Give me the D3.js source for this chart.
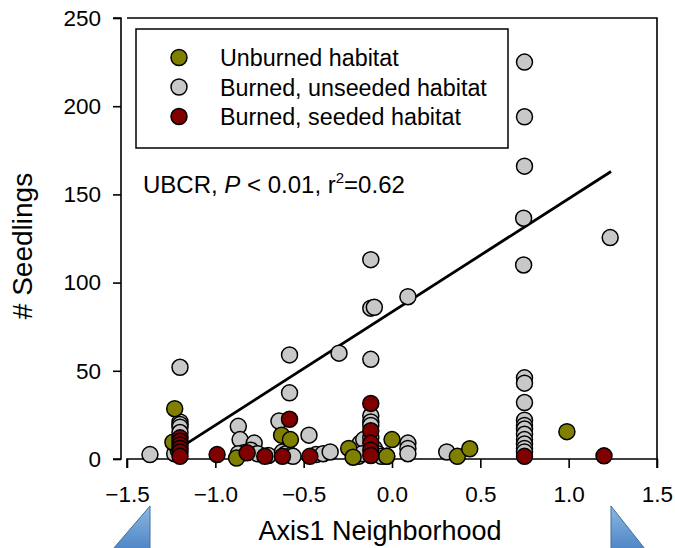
<!DOCTYPE html>
<html><head><meta charset="utf-8">
<script src="https://cdn.jsdelivr.net/npm/d3@7/dist/d3.min.js"></script>
<style>body{margin:0;background:#fff}svg{display:block}text{font-family:"Liberation Sans",Arial,sans-serif;fill:#000}</style>
</head><body>
<svg id="c" width="675" height="548"></svg>
<script>
// ---- data ----
const unburned = [[-1.23,28.5],[-1.24,9.5],[-0.88,0.5],[-0.625,13.5],[-0.575,11],[-0.245,6],[-0.22,1],[0.0,11],[-0.03,1.5],[0.37,1.5],[0.44,5.8],[0.99,15.5]];
const burnedUnseeded = [[-1.37,2.5],[-1.23,3],[-1.2,52],[-1.2,21],[-1.2,19.5],[-1.2,18],[-1.2,15],[-1.21,5],
 [-0.87,18.5],[-0.86,11],[-0.78,9],[-0.8,5],[-0.84,3.5],[-0.87,3],[-0.76,3],[-0.7,2],
 [-0.64,21.5],[-0.58,59],[-0.58,37.5],[-0.62,4],[-0.6,3],[-0.57,2],[-0.56,1.5],
 [-0.47,13.5],[-0.43,2.5],[-0.39,3],[-0.35,4],
 [-0.30,60],[-0.19,7],[-0.18,9],[-0.16,11],[-0.19,1.5],[-0.17,3],
 [-0.12,113],[-0.12,85.5],[-0.10,86],[-0.12,56.5],[-0.12,24.5],[-0.12,21],[-0.12,19],[-0.12,12],[-0.1,6],[-0.08,3],[-0.06,1.5],[-0.03,1.5],
 [0.09,92],[0.09,9],[0.09,6],[0.09,3],[0.31,4],
 [0.75,225],[0.75,194],[0.75,166],[0.745,136.5],[0.745,110],[0.75,46],[0.75,43],[0.75,32],[0.75,22],[0.75,19],[0.75,17],[0.75,14],[0.75,11],[0.75,8.5],[0.75,6],[0.75,4],
 [1.235,125.5]];
const burnedSeeded = [[-1.2,12],[-1.2,10],[-1.2,8],[-1.2,6],[-1.2,4],[-1.2,1.5],[-0.99,2.5],[-0.82,3.5],[-0.72,1.5],[-0.62,1.5],[-0.58,22.5],[-0.465,1.5],[-0.12,31.5],[-0.12,16],[-0.12,9],[-0.12,5],[-0.12,2],[0.75,1.5],[1.2,1.8]];
const fitX = [-1.22, 1.24];
const fitY = [5, 163];
const xTicks = [-1.5,-1.0,-0.5,0.0,0.5,1.0,1.5];
const yTicks = [0,50,100,150,200,250];
const seriesNames = ["Unburned habitat","Burned, unseeded habitat","Burned, seeded habitat"];
const seriesColors = ["#808000","#c8c8c8","#800000"];

// ---- drawing ----
const svg = d3.select("#c");
const x = d3.scaleLinear().domain([-1.5,1.5]).range([127,657]);
const y = d3.scaleLinear().domain([0,250]).range([459,18]);

// frame (top & right)
svg.append("path").attr("d",`M${x(-1.5)},${y(250)}H${x(1.5)}V${y(0)}`).attr("fill","none").attr("stroke","#000").attr("stroke-width",1.6);

// y axis (offset left)
const ya = svg.append("g").attr("transform","translate(121,0)")
  .call(d3.axisLeft(y).tickValues(yTicks).tickFormat(d3.format("d")).tickSize(8).tickPadding(12));
ya.select(".domain").attr("stroke-width",1.6).attr("d",`M-8,${y(250)}H0V${y(0)}H-8`);
ya.selectAll(".tick line").attr("stroke-width",1.6);
ya.selectAll(".tick text").attr("font-size",22.5).attr("font-family","Liberation Sans, Arial");

// x axis
const xa = svg.append("g").attr("transform",`translate(0,${y(0)})`)
  .call(d3.axisBottom(x).tickValues(xTicks).tickFormat(d3.format(".1f")).tickSize(9).tickPadding(18));
xa.select(".domain").attr("stroke-width",1.6).attr("d",`M${x(-1.5)},9V0H${x(1.5)}V9`);
xa.selectAll(".tick line").attr("stroke-width",1.6);
xa.selectAll(".tick text").attr("font-size",22.5).attr("font-family","Liberation Sans, Arial");

// regression line
svg.append("line").attr("x1",x(fitX[0])).attr("y1",y(fitY[0])).attr("x2",x(fitX[1])).attr("y2",y(fitY[1]))
  .attr("stroke","#000").attr("stroke-width",2.8);

// points
const groups = [burnedUnseeded, unburned, burnedSeeded];
const gcol = [seriesColors[1], seriesColors[0], seriesColors[2]];
groups.forEach((data,i)=>{
  svg.append("g").selectAll("circle").data(data).join("circle")
    .attr("cx",d=>x(d[0])).attr("cy",d=>y(d[1])).attr("r",8)
    .attr("fill",gcol[i]).attr("stroke","#000").attr("stroke-width",1.5);
});

// legend
svg.append("rect").attr("x",136).attr("y",29).attr("width",372).attr("height",119)
  .attr("fill","#fff").attr("stroke","#000").attr("stroke-width",1.5);
seriesNames.forEach((n,i)=>{
  const cy = 57.5 + i*29.5;
  svg.append("circle").attr("cx",179).attr("cy",cy).attr("r",8).attr("fill",seriesColors[i]).attr("stroke","#000").attr("stroke-width",1.5);
  svg.append("text").attr("x",220).attr("y",cy+8.5).attr("font-size",23.3).text(n);
});

// annotation
const ann = svg.append("text").attr("x",143).attr("y",193).attr("font-size",24);
ann.append("tspan").text("UBCR, ");
ann.append("tspan").attr("font-style","italic").text("P");
ann.append("tspan").text(" < 0.01, r");
ann.append("tspan").attr("font-size",15).attr("dy",-10).text("2");
ann.append("tspan").attr("dy",10).text("=0.62");

// axis titles
svg.append("text").attr("x",380).attr("y",540).attr("text-anchor","middle").attr("font-size",27).text("Axis1 Neighborhood");
svg.append("text").attr("transform","translate(32,246) rotate(-90)").attr("text-anchor","middle").attr("font-size",28).text("# Seedlings");

// decorative blue arrow heads at bottom corners
const grad = svg.append("defs").append("linearGradient").attr("id","bl").attr("x1",0).attr("y1",0).attr("x2",0).attr("y2",1);
grad.append("stop").attr("offset",0).attr("stop-color","#8db7e2");
grad.append("stop").attr("offset",1).attr("stop-color","#4f86c6");
svg.append("path").attr("d","M150,506L150,549L113,549Z").attr("fill","url(#bl)").attr("stroke","#41719c").attr("stroke-width",1);
svg.append("path").attr("d","M611,506L645,549L611,549Z").attr("fill","url(#bl)").attr("stroke","#41719c").attr("stroke-width",1);
</script>
</body></html>
